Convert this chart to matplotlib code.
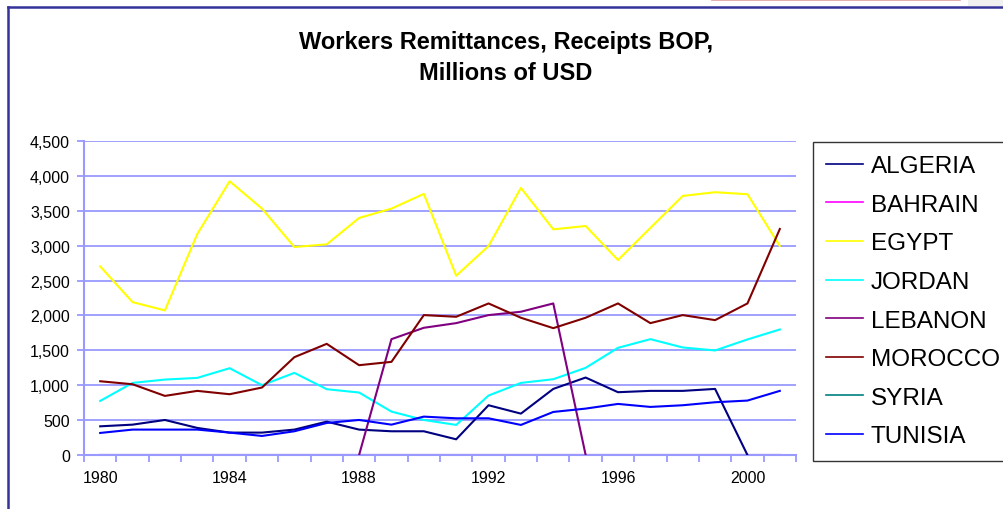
import numpy as np
import matplotlib
matplotlib.use('Agg')
import matplotlib.pyplot as plt
from matplotlib.lines import Line2D
from matplotlib.patches import Rectangle

plt.rcParams['font.family'] = ['Liberation Sans', 'DejaVu Sans']

nan = np.nan
years = list(range(1980, 2002))

algeria = [411, 435, 502, 388, 321, 321, 364, 478, 364, 340, 340,
           225, 713, 593, 947, 1110, 900, 919, 919, 947, 0, nan]
bahrain = [0] * 22
egypt = [2703, 2191, 2072, 3167, 3923, 3531, 2981, 3019, 3397, 3531, 3742,
         2569, 2995, 3828, 3234, 3282, 2794, 3254, 3713, 3766, 3737, 2995]
jordan = [775, 1033, 1081, 1105, 1244, 1000, 1177, 943, 895, 622, 502,
          431, 852, 1033, 1086, 1249, 1536, 1660, 1541, 1498, 1656, 1799]
lebanon = [nan] * 8 + [0, 1660, 1823, 1890, 2005, 2053, 2172, 0] + [nan] * 6
morocco = [1057, 1014, 847, 919, 871, 967, 1402, 1593, 1287, 1335, 2005,
           1981, 2172, 1967, 1818, 1967, 2172, 1890, 2005, 1933, 2172, 3239]
syria = [0] * 22
tunisia = [316, 364, 364, 364, 321, 273, 340, 459, 502, 435, 550,
           526, 526, 431, 617, 665, 732, 689, 713, 756, 780, 919]

series = [
    ("ALGERIA", algeria, "#000080"),
    ("BAHRAIN", bahrain, "#ff00ff"),
    ("EGYPT", egypt, "#ffff00"),
    ("JORDAN", jordan, "#00ffff"),
    ("LEBANON", lebanon, "#800080"),
    ("MOROCCO", morocco, "#800000"),
    ("SYRIA", syria, "#008080"),
    ("TUNISIA", tunisia, "#0000ff"),
]

grid_col = "#9999ff"

fig = plt.figure(figsize=(10.04, 5.10), dpi=100)
ax = fig.add_axes([84 / 1004, 54 / 510, 712 / 1004, 314 / 510])

for name, vals, col in series:
    z = 1 if name in ("BAHRAIN", "SYRIA") else 3
    ax.plot(years, vals, color=col, lw=1.5, label=name, zorder=z)

ax.set_xlim(1979.5, 2001.5)
ax.set_ylim(0, 4500)
ax.set_yticks(np.arange(0, 4501, 500))
ax.set_yticklabels([f"{v:,}" for v in range(0, 4501, 500)])
ax.yaxis.grid(True, color=grid_col, lw=1.3)
ax.set_axisbelow(True)

# category axis: ticks between years, labels every 4th year
ax.set_xticks(np.arange(1979.5, 2002, 1))
ax.set_xticklabels([])
ax.set_xticks(years[::4], minor=True)
ax.set_xticklabels([str(y) for y in years[::4]], minor=True)
ax.tick_params(axis='x', which='major', length=5, color=grid_col, width=1.3)
ax.tick_params(axis='x', which='minor', length=0, pad=11, labelsize=11.5)
ax.tick_params(axis='y', length=5, color=grid_col, width=1.3, pad=5, labelsize=11.5)

for s in ('top', 'right'):
    ax.spines[s].set_visible(False)
for s in ('left', 'bottom'):
    ax.spines[s].set_color(grid_col)
    ax.spines[s].set_linewidth(1.5)

fig.text(506 / 1004, 1 - 42 / 510, "Workers Remittances, Receipts BOP,",
         ha='center', va='center', fontsize=17, fontweight='bold')
fig.text(506 / 1004, 1 - 74 / 510, "Millions of USD",
         ha='center', va='center', fontsize=17, fontweight='bold')

handles = [Line2D([], [], color=c, lw=1.2) for _, _, c in series]
leg = fig.legend(handles, [n for n, _, _ in series], loc='upper left',
                 bbox_to_anchor=(813 / 1004, 1 - 143 / 510),
                 fontsize=17.5, frameon=True, fancybox=False,
                 handlelength=1.5, handletextpad=0.33, labelspacing=0.68,
                 borderpad=0.55, borderaxespad=0)
leg.get_frame().set_edgecolor('black')
leg.get_frame().set_linewidth(1.0)

# chart border (top and left visible)
fig.add_artist(Line2D([8 / 1004, 1], [1 - 8 / 510, 1 - 8 / 510],
                      color='#333399', lw=1.8, transform=fig.transFigure))
fig.add_artist(Line2D([8 / 1004, 8 / 1004], [0, 1 - 8 / 510],
                      color='#333399', lw=1.8, transform=fig.transFigure))
fig.add_artist(Rectangle((968 / 1004, 1 - 7 / 510), 36 / 1004, 7 / 510,
                         color='#f0f0f0', transform=fig.transFigure, lw=0))
fig.add_artist(Line2D([712 / 1004, 960 / 1004], [1 - 0.8 / 510, 1 - 0.8 / 510],
                      color='#e0a0a0', lw=1.2, transform=fig.transFigure))

fig.savefig('out.png', dpi=100)
